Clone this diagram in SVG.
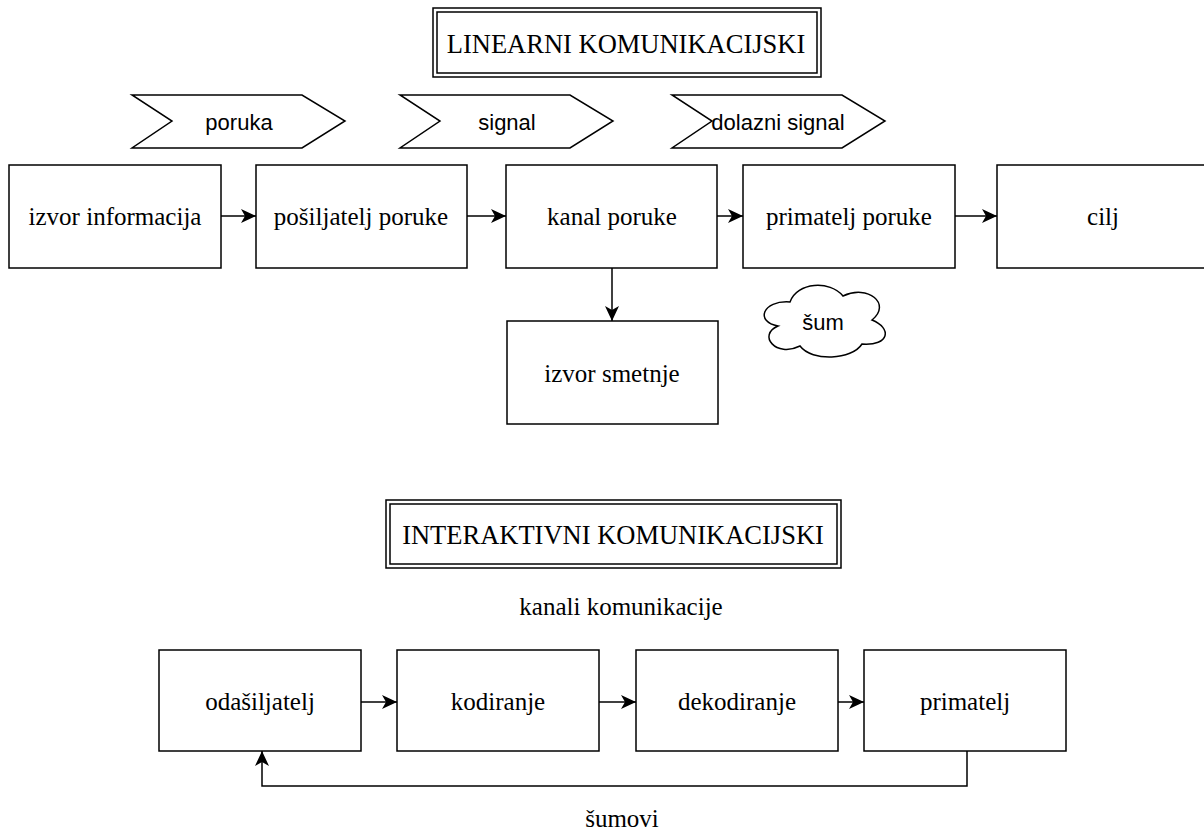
<svg xmlns="http://www.w3.org/2000/svg" width="1204" height="830" viewBox="0 0 1204 830">
<style>
.box{fill:#fff;stroke:#000;stroke-width:1.5}
.t{font-family:"Liberation Serif","Times New Roman",serif;font-size:25px;fill:#000;text-anchor:middle;dominant-baseline:central}
.tt{font-family:"Liberation Serif","Times New Roman",serif;font-size:26.5px;fill:#000;text-anchor:middle;dominant-baseline:central}
.s{font-family:"Liberation Sans",Arial,sans-serif;font-size:22px;fill:#000;text-anchor:middle;dominant-baseline:central}
.c{fill:none;stroke:#000;stroke-width:1.5}
</style>
<defs>
<marker id="ah" markerWidth="16" markerHeight="14" refX="15" refY="7" orient="auto" markerUnits="userSpaceOnUse">
<path d="M0,0 L15,7 L0,14 L4,7 Z" fill="#000"/>
</marker>
</defs>
<rect width="1204" height="830" fill="#fff"/>

<g id="title1">
<rect x="433" y="8" width="388" height="69" class="box"/>
<rect x="437" y="12" width="380" height="61" class="box"/>
<text x="626" y="44" class="tt">LINEARNI KOMUNIKACIJSKI</text>
</g>

<g id="chev-poruka">
<path d="M132,95 L302,95 L345,121 L302,148 L132,148 L172,121 Z" class="box"/>
<text x="239" y="122" class="s">poruka</text>
</g>
<g id="chev-signal">
<path d="M400,95 L570,95 L613,121 L570,148 L400,148 L440,121 Z" class="box"/>
<text x="507" y="122" class="s">signal</text>
</g>
<g id="chev-dolazni">
<path d="M672,95 L842,95 L885,121 L842,148 L672,148 L712,121 Z" class="box"/>
<text x="778" y="122" class="s">dolazni signal</text>
</g>

<g id="izvor-informacija">
<rect x="9" y="165" width="212" height="103" class="box"/>
<text x="115" y="216" class="t">izvor informacija</text>
</g>
<g id="posiljatelj-poruke">
<rect x="256" y="165" width="211" height="103" class="box"/>
<text x="361" y="216" class="t">pošiljatelj poruke</text>
</g>
<g id="kanal-poruke">
<rect x="506" y="165" width="211" height="103" class="box"/>
<text x="612" y="216" class="t">kanal poruke</text>
</g>
<g id="primatelj-poruke">
<rect x="743" y="165" width="212" height="103" class="box"/>
<text x="849" y="216" class="t">primatelj poruke</text>
</g>
<g id="cilj">
<rect x="997" y="165" width="212" height="103" class="box"/>
<text x="1103" y="216" class="t">cilj</text>
</g>
<g id="izvor-smetnje">
<rect x="507" y="321" width="211" height="103" class="box"/>
<text x="612" y="373" class="t">izvor smetnje</text>
</g>
<g id="sum">
<path d="M790,302 C762,300 755,322 778,326 C757,335 776,358 800,346 C812,362 852,360 862,344 C890,346 892,328 872,320 C892,304 868,284 843,296 C830,280 797,282 790,302 Z" class="box"/>
<text x="823" y="322" class="s">šum</text>
</g>

<g id="title2">
<rect x="386" y="500" width="455" height="68" class="box"/>
<rect x="390" y="504" width="447" height="60" class="box"/>
<text x="613" y="535" class="tt">INTERAKTIVNI KOMUNIKACIJSKI</text>
</g>
<g id="kanali-komunikacije">
<text x="621" y="606" class="t">kanali komunikacije</text>
</g>

<g id="odasiljatelj">
<rect x="159" y="650" width="202" height="101" class="box"/>
<text x="260" y="701" class="t">odašiljatelj</text>
</g>
<g id="kodiranje">
<rect x="397" y="650" width="202" height="101" class="box"/>
<text x="498" y="701" class="t">kodiranje</text>
</g>
<g id="dekodiranje">
<rect x="636" y="650" width="202" height="101" class="box"/>
<text x="737" y="701" class="t">dekodiranje</text>
</g>
<g id="primatelj">
<rect x="864" y="650" width="202" height="101" class="box"/>
<text x="965" y="701" class="t">primatelj</text>
</g>
<g id="sumovi">
<text x="622" y="818" class="t">šumovi</text>
</g>

<g id="connectors">
<path d="M221,216 H256" class="c" marker-end="url(#ah)"/>
<path d="M467,216 H506" class="c" marker-end="url(#ah)"/>
<path d="M717,216 H743" class="c" marker-end="url(#ah)"/>
<path d="M955,216 H997" class="c" marker-end="url(#ah)"/>
<path d="M612,268 V321" class="c" marker-end="url(#ah)"/>
<path d="M361,702 H397" class="c" marker-end="url(#ah)"/>
<path d="M599,702 H636" class="c" marker-end="url(#ah)"/>
<path d="M838,702 H864" class="c" marker-end="url(#ah)"/>
<path d="M967,751 V786 H262 V751" class="c" marker-end="url(#ah)"/>
</g>
</svg>
